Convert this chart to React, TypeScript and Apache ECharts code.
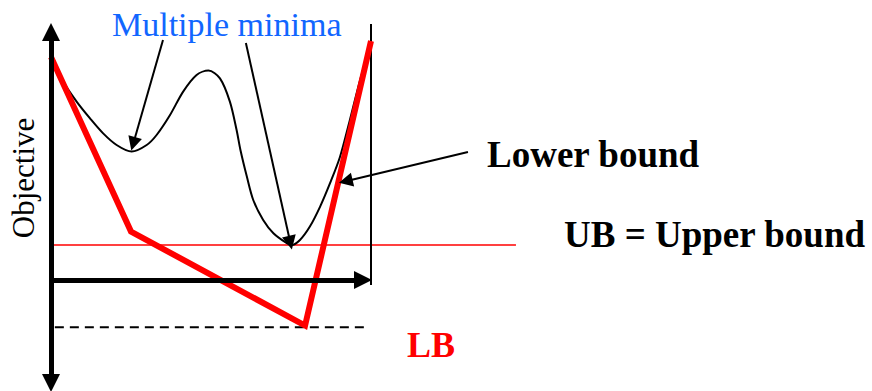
import React, { useEffect, useRef } from "react";
import * as echarts from "echarts";

// Objective function with multiple minima (x: decision variable, y: objective)
const curveX = [0.07, 0.38, 0.8, 1.22, 1.63, 2.05, 2.52, 2.99, 3.3, 3.72, 4.13, 4.55, 4.92, 5.28, 5.59, 5.8, 5.92, 6.12, 6.32, 6.63, 6.95, 7.37, 7.52, 7.78, 8.09, 8.41, 8.72, 9.03, 9.34, 9.66, 10.0];
const curveY = [11.08, 9.92, 8.92, 8.08, 7.33, 6.75, 6.42, 6.75, 7.25, 8.25, 9.42, 10.25, 10.47, 10.08, 8.92, 7.5, 6.5, 5.17, 4.0, 3.0, 2.34, 1.84, 1.75, 2.0, 2.67, 3.67, 4.84, 6.15, 8.0, 10.0, 11.85];

// Piecewise-linear lower bound
const lowerBoundX = [0, 2.5, 7.94, 10.0];
const lowerBoundY = [11.15, 2.42, -2.28, 11.95];

// Bounds
const upperBound = 1.75;
const upperBoundSpan = [0, 14.53];
const lowerBoundValue = -2.36;
const lowerBoundSpan = [0.12, 9.88];

// Domain edge
const domainEnd = 10.0;
const domainEdgeSpan = [-0.25, 12.8];

// Axis arrows
const yAxisArrow = [[0, -5.15], [0, 12.4]];
const xAxisArrow = [[0, 0], [9.75, 0]];

// Annotation arrows [from, to]
const minimaArrow1 = [[3.5, 12.0], [2.57, 6.81]];
const minimaArrow2 = [[6.09, 11.85], [7.48, 1.865]];
const lowerBoundArrow = [[13.03, 6.4], [9.21, 4.94]];

const SERIF = "'Liberation Serif', 'Times New Roman', Times, serif";

function zip(xs: number[], ys: number[]) {
  return xs.map((x, i) => [x, ys[i]]);
}

export default function App() {
  const ref = useRef<HTMLDivElement>(null);

  useEffect(() => {
    if (!ref.current) return;
    const chart = echarts.init(ref.current, undefined, { renderer: "svg" });

    const arrowSeries = (coords: number[][], width: number, size: number, symbols: string[]) => ({
      type: "lines",
      coordinateSystem: "cartesian2d",
      polyline: false,
      clip: false,
      silent: true,
      symbol: symbols,
      symbolSize: size,
      lineStyle: { color: "#000", width, opacity: 1, curveness: 0 },
      itemStyle: { color: "#000" },
      data: [{ coords }],
      z: 5,
    });

    chart.setOption({
      animation: false,
      backgroundColor: "#fff",
      grid: { left: 51, top: 20, width: 480, height: 360, containLabel: false, outerBoundsMode: "none" },
      xAxis: { type: "value", min: 0, max: 15, show: false },
      yAxis: { type: "value", min: -5, max: 13, show: false },
      graphic: [
        {
          type: "text",
          x: 112,
          y: 24,
          style: { text: "Multiple minima", font: `normal 34px ${SERIF}`, fill: "#1166ff", textAlign: "left", textVerticalAlign: "middle" },
        },
        {
          type: "text",
          x: 487,
          y: 154,
          style: { text: "Lower bound", font: `bold 37px ${SERIF}`, fill: "#000", textAlign: "left", textVerticalAlign: "middle" },
        },
        {
          type: "text",
          x: 564,
          y: 234,
          style: { text: "UB = Upper bound", font: `bold 37px ${SERIF}`, fill: "#000", textAlign: "left", textVerticalAlign: "middle" },
        },
        {
          type: "text",
          x: 407,
          y: 345,
          style: { text: "LB", font: `bold 36px ${SERIF}`, fill: "#ff0000", textAlign: "left", textVerticalAlign: "middle" },
        },
        {
          type: "text",
          x: 23,
          y: 178,
          rotation: Math.PI / 2,
          style: { text: "Objective", font: `normal 31px ${SERIF}`, fill: "#000", textAlign: "center", textVerticalAlign: "middle" },
        },
      ],
      series: [
        {
          type: "line",
          data: [[upperBoundSpan[0], upperBound], [upperBoundSpan[1], upperBound]],
          showSymbol: false,
          clip: false,
          lineStyle: { color: "#ff0000", width: 1.5 },
          z: 1,
        },
        {
          type: "line",
          data: [[lowerBoundSpan[0], lowerBoundValue], [lowerBoundSpan[1], lowerBoundValue]],
          showSymbol: false,
          clip: false,
          lineStyle: { color: "#000", width: 2, type: [9, 6] },
          z: 1,
        },
        {
          type: "line",
          data: [[domainEnd, domainEdgeSpan[0]], [domainEnd, domainEdgeSpan[1]]],
          showSymbol: false,
          clip: false,
          lineStyle: { color: "#000", width: 2 },
          z: 2,
        },
        {
          type: "line",
          data: zip(curveX, curveY),
          smooth: 0.3,
          showSymbol: false,
          clip: false,
          lineStyle: { color: "#000", width: 2 },
          z: 3,
        },
        {
          type: "line",
          data: zip(lowerBoundX, lowerBoundY),
          showSymbol: false,
          clip: false,
          lineStyle: { color: "#ff0000", width: 6, join: "miter" },
          z: 4,
        },
        arrowSeries(yAxisArrow, 5, 18, ["triangle", "triangle"]),
        arrowSeries(xAxisArrow, 5, 18, ["none", "triangle"]),
        arrowSeries(minimaArrow1, 2, 14, ["none", "triangle"]),
        arrowSeries(minimaArrow2, 2, 14, ["none", "triangle"]),
        arrowSeries(lowerBoundArrow, 2, 14, ["none", "triangle"]),
      ],
    });

    return () => chart.dispose();
  }, []);

  return (
    <div
      ref={ref}
      style={{ position: "fixed", left: 0, top: 0, width: 872, height: 391, background: "#fff" }}
    />
  );
}
